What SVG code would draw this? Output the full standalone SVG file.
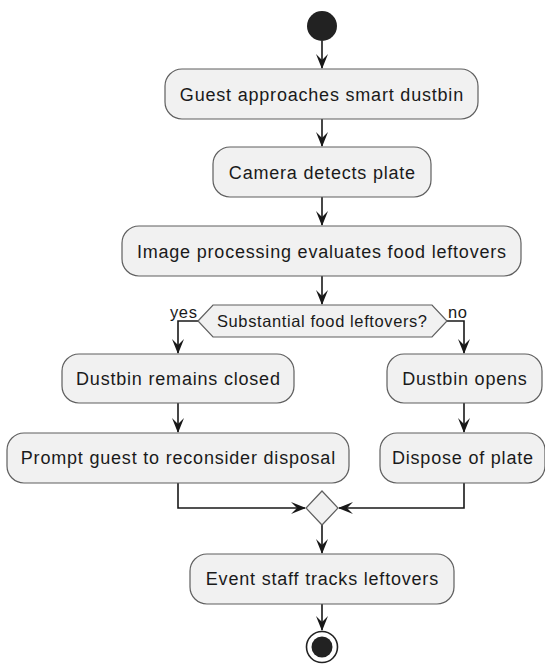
<svg xmlns="http://www.w3.org/2000/svg" width="545" height="664" viewBox="0 0 545 664">
<style>
.box{fill:#F1F1F1;stroke:#5f5f5f;stroke-width:1.2}
.t{font-family:"Liberation Sans",Arial,sans-serif;font-size:18px;fill:#1a1a1a;text-anchor:middle;letter-spacing:0.8px}
.s{font-family:"Liberation Sans",Arial,sans-serif;font-size:16.5px;fill:#1a1a1a;letter-spacing:0.6px}
.ln{fill:none;stroke:#181818;stroke-width:1.6}
.ah{fill:#181818;stroke:none}
</style>
<defs>
<polygon id="ad" points="-6,-15 0,0 6,-15 0,-9"/>
<polygon id="ar" points="-15,-6 0,0 -15,6 -9,0"/>
<polygon id="al" points="15,-6 0,0 15,6 9,0"/>
</defs>
<g id="connectors">
<path class="ln" d="M322,41 V68"/><use href="#ad" class="ah" x="322" y="69"/>
<path class="ln" d="M322,119 V146"/><use href="#ad" class="ah" x="322" y="147"/>
<path class="ln" d="M322,197 V225"/><use href="#ad" class="ah" x="322" y="226"/>
<path class="ln" d="M322,276 V304"/><use href="#ad" class="ah" x="322" y="305"/>
<path class="ln" d="M198,321 H178 V353"/><use href="#ad" class="ah" x="178" y="354"/>
<path class="ln" d="M447,321 H464 V353"/><use href="#ad" class="ah" x="464" y="354"/>
<path class="ln" d="M178,403 V432"/><use href="#ad" class="ah" x="178" y="433"/>
<path class="ln" d="M464,403 V432"/><use href="#ad" class="ah" x="464" y="433"/>
<path class="ln" d="M178,483 V508 H305"/><use href="#ar" class="ah" x="306" y="508"/>
<path class="ln" d="M464,483 V508 H339"/><use href="#al" class="ah" x="338" y="508"/>
<path class="ln" d="M322,525 V553"/><use href="#ad" class="ah" x="322" y="554"/>
<path class="ln" d="M322,604 V630"/><use href="#ad" class="ah" x="322" y="631"/>
<text class="s" x="170" y="318">yes</text>
<text class="s" x="448" y="318">no</text>
</g>
<g id="start"><circle cx="322" cy="26" r="15" fill="#222"/></g>
<g id="n1"><rect class="box" x="165" y="69" width="313" height="50" rx="17"/><text class="t" x="321.9" y="100.5">Guest approaches smart dustbin</text></g>
<g id="n2"><rect class="box" x="213" y="147" width="218" height="50" rx="17"/><text class="t" x="322.4" y="178.5">Camera detects plate</text></g>
<g id="n3"><rect class="box" x="122" y="226" width="399" height="50" rx="17"/><text class="t" x="321.9" y="257.5">Image processing evaluates food leftovers</text></g>
<g id="d1"><polygon class="box" points="198,321 213,305 432,305 447,321 432,337 213,337"/><text class="s" x="322.3" y="327" text-anchor="middle">Substantial food leftovers?</text></g>
<g id="n4"><rect class="box" x="62" y="354" width="232" height="49" rx="17"/><text class="t" x="178.4" y="385">Dustbin remains closed</text></g>
<g id="n5"><rect class="box" x="387" y="354" width="155" height="49" rx="17"/><text class="t" x="464.9" y="385">Dustbin opens</text></g>
<g id="n6"><rect class="box" x="7" y="433" width="342" height="50" rx="17"/><text class="t" x="178.4" y="464">Prompt guest to reconsider disposal</text></g>
<g id="n7"><rect class="box" x="380" y="433" width="165" height="50" rx="17"/><text class="t" x="462.9" y="464">Dispose of plate</text></g>
<g id="m1"><polygon class="box" points="322,491 338,508 322,525 306,508"/></g>
<g id="n8"><rect class="box" x="190" y="554" width="264" height="50" rx="17"/><text class="t" x="322.4" y="585">Event staff tracks leftovers</text></g>
<g id="end"><circle cx="322" cy="647" r="15.5" fill="#fff" stroke="#222" stroke-width="1.6"/><circle cx="322" cy="647" r="10.5" fill="#222"/></g>
</svg>
